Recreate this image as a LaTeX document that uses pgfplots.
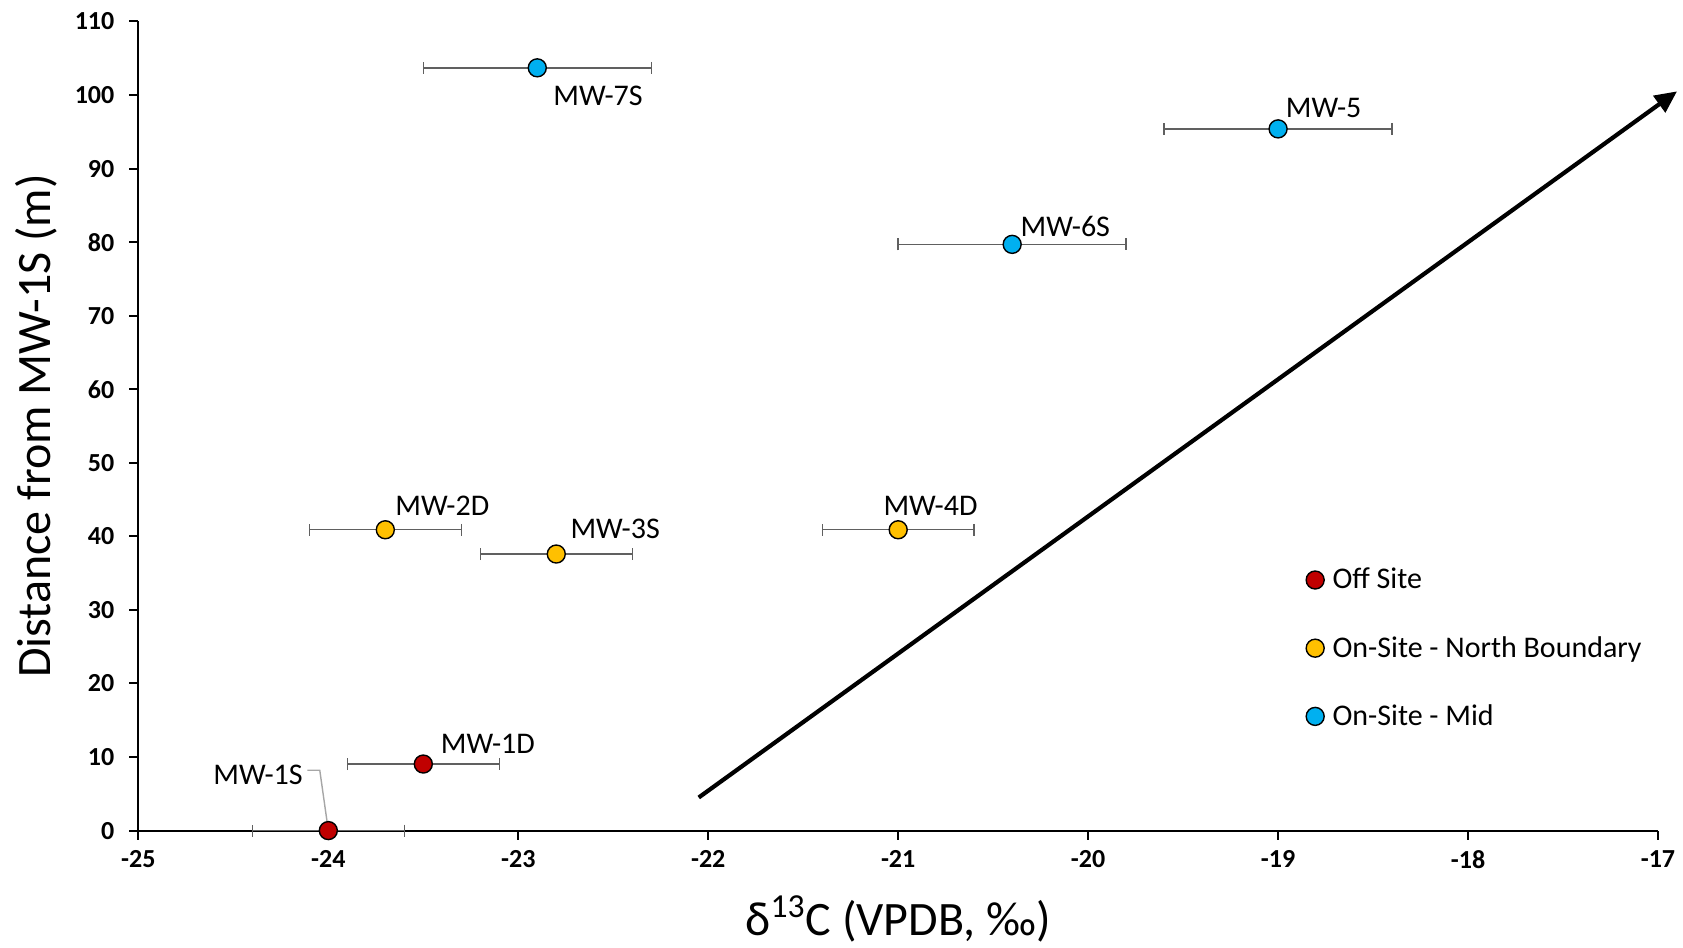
\documentclass[border=0pt]{standalone}
\usepackage{fontspec}
\setmainfont{Carlito}
\usepackage{pgfplots}
\pgfplotsset{compat=1.18}
\usetikzlibrary{arrows.meta}
\definecolor{offsite}{HTML}{C00000}
\definecolor{north}{HTML}{FFC000}
\definecolor{mid}{HTML}{00B0F0}
\definecolor{errgray}{HTML}{606060}
\begin{document}
\begin{tikzpicture}
\begin{axis}[
  scale only axis, width=759.9pt, height=404.6pt,
  xmin=-25, xmax=-17, ymin=0, ymax=110,
  xtick={-25,-24,...,-17}, ytick={0,10,...,110},
  axis lines*=left, axis line style={line width=1pt},
  tick align=outside, major tick length=4.5pt, tick style={black, line width=1pt},
  ticklabel style={font=\fontsize{13}{13}\selectfont\bfseries},
  /pgf/number format/assume math mode=true,
  xticklabel style={yshift=-2pt},
  yticklabel style={xshift=-4pt},
  clip=false,
  xlabel={δ\textsuperscript{13}C (VPDB, ‰)},
  ylabel={Distance from MW-1S (m)},
  label style={font=\fontsize{24}{24}\selectfont},
  xlabel style={at={(axis description cs:0.5,-0.109)}, anchor=center},
  ylabel style={at={(axis description cs:-0.067,0.5)}, anchor=center},
  legend style={draw=none, fill=none, font=\fontsize{15}{15}\selectfont,
    at={(axis description cs:0.764,0.2254)}, anchor=west, row sep=18.2pt,
    cells={anchor=west}},
  legend image code/.code={\path (0pt,0pt) (11pt,0pt); \draw[#1] plot coordinates {(4.5pt,0pt)};},
  error bars/x dir=both, error bars/x explicit,
  error bars/error bar style={errgray, line width=0.7pt},
  error bars/error mark options={errgray, line width=0.7pt, mark size=3pt, rotate=90},
]
\addplot[only marks, mark=*, mark size=4.5pt, mark options={fill=offsite, draw=black, line width=0.7pt}]
  table[x=x, y=y, x error=ex] {
x y ex
-24.0 0 0.4
-23.5 9.05 0.4
};
\addlegendentry{Off Site}
\addplot[only marks, mark=*, mark size=4.5pt, mark options={fill=north, draw=black, line width=0.7pt}]
  table[x=x, y=y, x error=ex] {
x y ex
-23.7 40.9 0.4
-22.8 37.6 0.4
-21.0 40.9 0.4
};
\addlegendentry{On-Site - North Boundary}
\addplot[only marks, mark=*, mark size=4.5pt, mark options={fill=mid, draw=black, line width=0.7pt}]
  table[x=x, y=y, x error=ex] {
x y ex
-22.9 103.7 0.6
-20.4 79.7 0.6
-19.0 95.4 0.6
};
\addlegendentry{On-Site - Mid}
\addplot[forget plot, black, line width=2.1pt, -{Triangle[length=11pt,width=10pt]}]
  coordinates {(-22.05,4.5) (-16.9,100.5)};
\draw[gray!70, line width=0.7pt] (axis cs:-24.11,8.2) -- (axis cs:-24.045,8.2) -- (axis cs:-24,0);
\begin{scope}[every node/.style={font=\fontsize{15}{15}\selectfont, anchor=center, inner sep=0pt}]
\node at (axis cs:-22.58,99.9) {MW-7S};
\node at (axis cs:-18.76,98.3) {MW-5};
\node at (axis cs:-20.12,82.1) {MW-6S};
\node at (axis cs:-23.40,44.2) {MW-2D};
\node at (axis cs:-22.49,41.0) {MW-3S};
\node at (axis cs:-20.83,44.2) {MW-4D};
\node at (axis cs:-23.16,11.8) {MW-1D};
\node at (axis cs:-24.37,7.6) {MW-1S};
\end{scope}
\coordinate (bl) at (rel axis cs:0,0);
\coordinate (tr) at (rel axis cs:1,1);
\end{axis}
\path (bl) ++(-69.2pt,-58.65pt) coordinate (a);
\path (tr) ++(12.5pt,10.75pt) coordinate (b);
\pgfresetboundingbox
\path (a) rectangle (b);
\end{tikzpicture}
\end{document}
